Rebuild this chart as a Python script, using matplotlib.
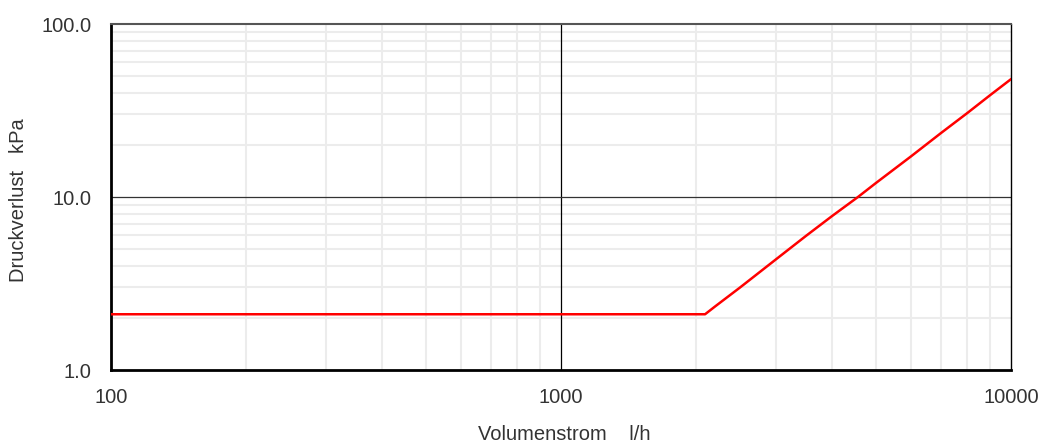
from matplotlib import pyplot as plt
from matplotlib.ticker import FixedLocator, NullFormatter

plt.rcParams['font.family'] = ['Liberation Sans', 'DejaVu Sans']

# values
flow = [100, 1000, 2000, 2090, 2200, 2500, 3000, 3500, 4000, 4570, 5000, 6000, 7000, 8000, 9000, 10000]
loss = [2.1, 2.1, 2.1, 2.1, 2.33, 3.0, 4.35, 5.95, 7.75, 10.0, 12.0, 17.2, 23.5, 30.6, 38.9, 48.0]
x_ticks = [100, 1000, 10000]
x_labels = ["100", "1000", "10000"]
y_ticks = [1, 10, 100]
y_labels = ["1.0", "10.0", "100.0"]

f = plt.figure(figsize=(10.46, 4.44), dpi=100)
ax = f.add_axes([111 / 1046, 74 / 444, 900 / 1046, 346 / 444])

ax.set_xscale('log')
ax.set_yscale('log')
ax.set_xlim(100, 10000)
ax.set_ylim(1, 100)

minor_x = [m * d for d in (100, 1000) for m in range(2, 10)]
minor_y = [m * d for d in (1, 10) for m in range(2, 10)]
ax.xaxis.set_minor_locator(FixedLocator(minor_x))
ax.yaxis.set_minor_locator(FixedLocator(minor_y))
ax.xaxis.set_minor_formatter(NullFormatter())
ax.yaxis.set_minor_formatter(NullFormatter())
ax.grid(True, which='minor', color='#ececec', linewidth=1.5, zorder=0)

# major grid drawn on top of the minor grid
for xv in x_ticks[1:-1]:
    ax.axvline(xv, color='black', linewidth=0.9, zorder=2)
for yv in y_ticks[1:-1]:
    ax.axhline(yv, color='#333333', linewidth=0.9, zorder=2)

ax.set_xticks(x_ticks)
ax.set_xticklabels(x_labels)
ax.set_yticks(y_ticks)
ax.set_yticklabels(y_labels)
ax.tick_params(which='both', length=0, labelsize=14.5, colors='#333333')
ax.tick_params(axis='x', pad=13)
ax.tick_params(axis='y', pad=14)

ax.plot(flow, loss, color='#ff0000', linewidth=1.8, zorder=5)

for side in ('left', 'bottom'):
    ax.spines[side].set_linewidth(2)
    ax.spines[side].set_color('black')
ax.spines['right'].set_linewidth(1)
ax.spines['right'].set_color('black')
ax.spines['top'].set_linewidth(1.5)
ax.spines['top'].set_color('#555555')

ax.set_xlabel("Volumenstrom    l/h", fontsize=14.5, color='#333333')
ax.set_ylabel("Druckverlust   kPa", fontsize=14.5, color='#333333')
ax.xaxis.set_label_coords(0.504, -55 / 346)
ax.yaxis.set_label_coords(-83 / 900, 0.49)

f.savefig('out.png')
